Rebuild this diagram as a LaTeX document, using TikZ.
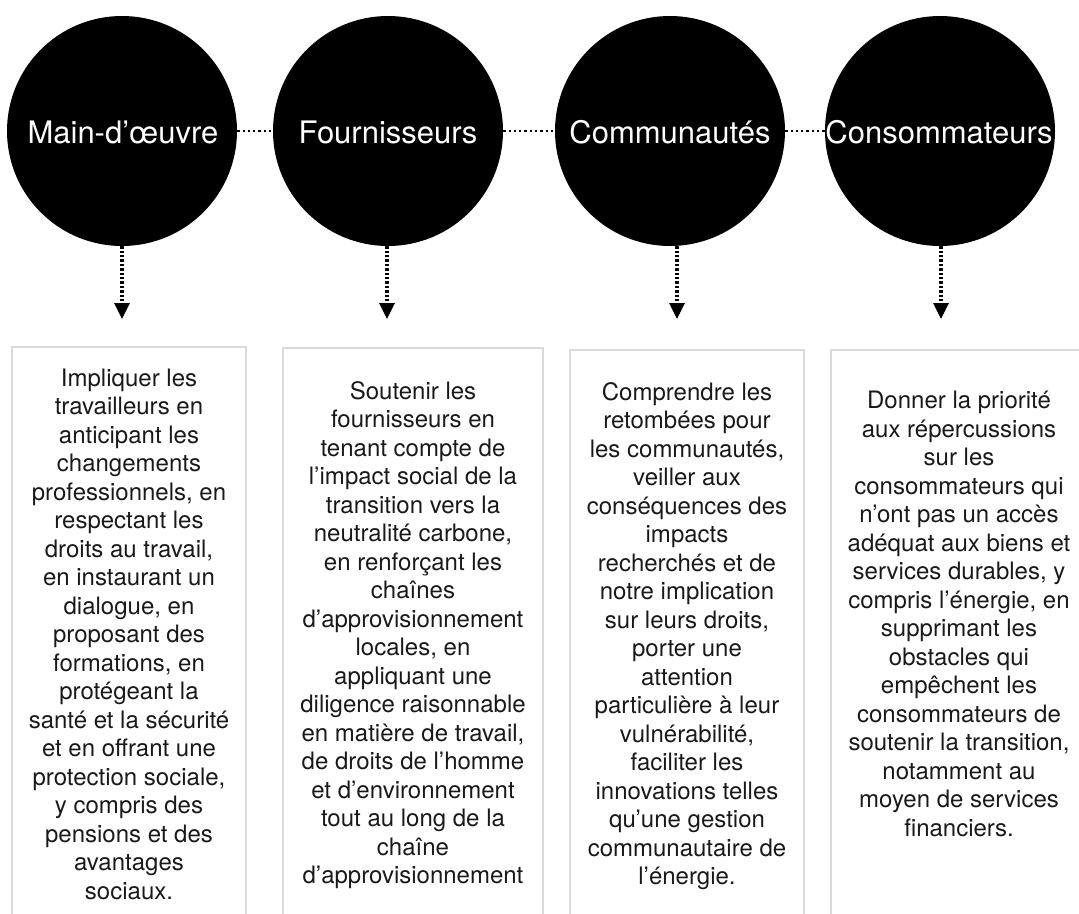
\documentclass[tikz,border=0pt]{standalone}
\usepackage{fontspec}
\setmainfont{TeX Gyre Heros}
\usetikzlibrary{arrows.meta}
\definecolor{boxgray}{HTML}{DADADA}
\tikzset{
  circ/.style={circle, fill=black, draw=none, minimum size=230pt, inner sep=0pt},
  title/.style={text=white, font=\fontsize{31}{36}\selectfont, inner sep=0pt, anchor=base},
  hlink/.style={draw=black, line width=2.4pt, dash pattern=on 2.3pt off 3pt},
  vlink/.style={draw=black, line width=3.3pt, dash pattern=on 2.4pt off 2pt, -{Triangle[width=15pt,length=16pt]}},
  boxline/.style={draw=boxgray, line width=1.5pt},
  boxtxt/.style={align=center, inner sep=0pt, font=\fontsize{24}{28.5}\selectfont, text=black!90}
}
\begin{document}
\begin{tikzpicture}[x=1pt,y=-1pt]
\useasboundingbox (0,0) rectangle (1079,913);
\clip (0,0) rectangle (1079,913);
% boxes
\draw[boxline] (12,347) rectangle (246,940);
\draw[boxline] (283,348) rectangle (543,940);
\draw[boxline] (570,350) rectangle (804,940);
\draw[boxline] (831,350) rectangle (1100,940);
% circles
\node[circ] (c1) at (122,131) {};
\node[circ] (c2) at (388,131) {};
\node[circ] (c3) at (670,131) {};
\node[circ] (c4) at (940,131) {};
\node[title] (h1) at (123,143) {Main-d’œuvre};
\node[title] (h2) at (388,143) {Fournisseurs};
\node[title] (h3) at (670,143) {Communautés};
\node[title] (h4) at (939,143) {Consommateurs};
% horizontal dotted links
\draw[hlink] (c1.east) -- (c2.west);
\draw[hlink] (c2.east) -- (c3.west);
\draw[hlink] (c3.east) -- (c4.west);
% arrow ends
\coordinate (a1) at (122,319);
\coordinate (a2) at (387,319);
\coordinate (a3) at (677,319);
\coordinate (a4) at (941,319);
\draw[vlink] (c1.south) -- (a1);
\draw[vlink] (c2.south -| a2) -- (a2);
\draw[vlink] (c3.south -| a3) -- (a3);
\draw[vlink] (c4.south -| a4) -- (a4);
% texts
\node[boxtxt] (t1) at (129,634) {Impliquer les\\travailleurs en\\anticipant les\\changements\\professionnels, en\\respectant les\\droits au travail,\\en instaurant un\\dialogue, en\\proposant des\\formations, en\\protégeant la\\santé et la sécurité\\et en offrant une\\protection sociale,\\y compris des\\pensions et des\\avantages\\sociaux.};
\node[boxtxt] (t2) at (413,635) {Soutenir les\\fournisseurs en\\tenant compte de\\l’impact social de la\\transition vers la\\neutralité carbone,\\en renforçant les\\chaînes\\d’approvisionnement\\locales, en\\appliquant une\\diligence raisonnable\\en matière de travail,\\de droits de l’homme\\et d’environnement\\tout au long de la\\chaîne\\d’approvisionnement};
\node[boxtxt] (t3) at (687,636) {Comprendre les\\retombées pour\\les communautés,\\veiller aux\\conséquences des\\impacts\\recherchés et de\\notre implication\\sur leurs droits,\\porter une\\attention\\particulière à leur\\vulnérabilité,\\faciliter les\\innovations telles\\qu’une gestion\\communautaire de\\l’énergie.};
\node[boxtxt] (t4) at (959,614) {Donner la priorité\\aux répercussions\\sur les\\consommateurs qui\\n’ont pas un accès\\adéquat aux biens et\\services durables, y\\compris l’énergie, en\\supprimant les\\obstacles qui\\empêchent les\\consommateurs de\\soutenir la transition,\\notamment au\\moyen de services\\financiers.};
\end{tikzpicture}
\end{document}
